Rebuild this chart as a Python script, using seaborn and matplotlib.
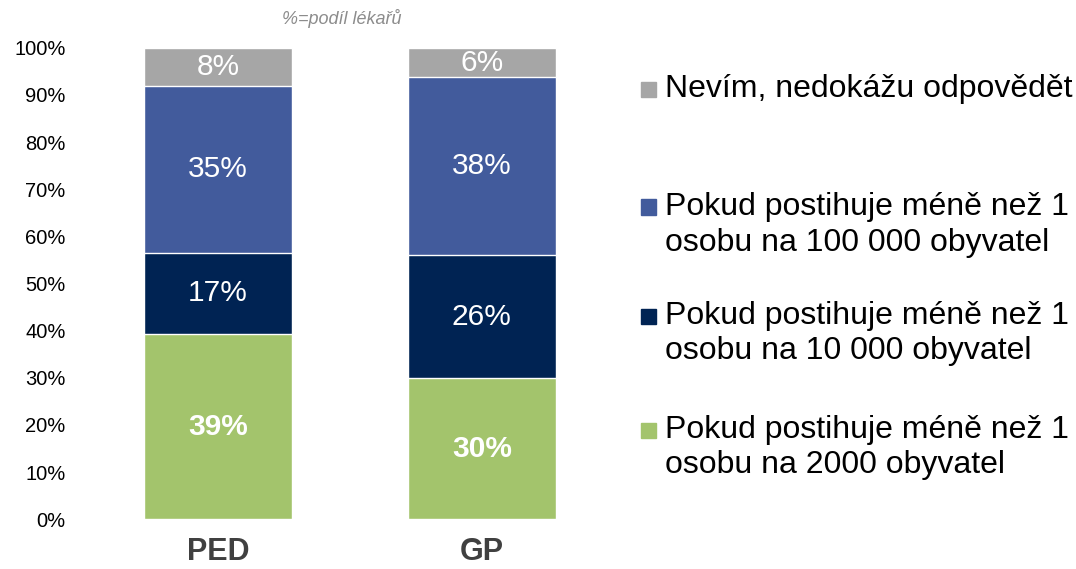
import numpy as np
import matplotlib
matplotlib.use('Agg')
import matplotlib.pyplot as plt
from matplotlib.patches import Rectangle
import seaborn as sns

# Data (share of doctors, %)
groups = ["PED", "GP"]
series = [
    "Pokud postihuje méně než 1\nosobu na 2000 obyvatel",
    "Pokud postihuje méně než 1\nosobu na 10 000 obyvatel",
    "Pokud postihuje méně než 1\nosobu na 100 000 obyvatel",
    "Nevím, nedokážu odpovědět",
]
val_2000 = [39.3, 29.9]
val_10000 = [17.2, 26.2]
val_100000 = [35.4, 37.6]
val_nevim = [8.1, 6.3]
colors = ["#A3C46C", "#002353", "#425B9C", "#A6A6A6"]
label_bold = [True, False, False, False]
note = "%=podíl lékařů"

sns.set_style("white")
plt.rcParams['font.family'] = ['Liberation Sans', 'DejaVu Sans']

W, H = 1076, 569
fig = plt.figure(figsize=(W / 100, H / 100), dpi=100)
ax = fig.add_axes([81 / W, 1 - 519.3 / H, 538 / W, 471.6 / H])

layers = np.array([val_2000, val_10000, val_100000, val_nevim])
tops = np.cumsum(layers, axis=0)
bottoms = tops - layers

# stacked bars: draw cumulative heights from top layer down
for i in range(len(series) - 1, -1, -1):
    sns.barplot(x=groups, y=tops[i], color=colors[i], saturation=1,
                width=0.56, errorbar=None, ax=ax, zorder=2)

# segment labels
for i in range(len(series)):
    for j in range(len(groups)):
        ax.text(j, bottoms[i, j] + layers[i, j] / 2, f"{layers[i, j]:.0f}%",
                ha='center', va='center', color='white', fontsize=21.5,
                fontweight='bold' if label_bold[i] else 'normal', zorder=3)

ax.set_xlim(-0.52, 1.52)
ax.set_ylim(0, 100)
ax.set_yticks(np.arange(0, 101, 10))
ax.set_yticklabels([f"{t}%" for t in range(0, 101, 10)])
ax.tick_params(axis='y', length=0, pad=11, labelsize=14.5, labelcolor='black')
ax.tick_params(axis='x', length=0, pad=13, labelsize=22, labelcolor='#404040')
for lab in ax.get_xticklabels():
    lab.set_fontweight('bold')
ax.set_xlabel("")
ax.set_ylabel("")
sns.despine(ax=ax, left=True, bottom=True)

fig.text(342 / W, 1 - 19 / H, note, ha='center', va='center',
         fontsize=13, style='italic', color='#8C8C8C')

# legend (top entry = top segment)
legend_y = [89.5, 207, 316, 430]
for k, i in enumerate(range(len(series) - 1, -1, -1)):
    yc = legend_y[k]
    fig.patches.append(Rectangle((641 / W, 1 - (yc + 7.5) / H), 15 / W, 15 / H,
                                 transform=fig.transFigure, color=colors[i]))
    for n, line in enumerate(series[i].split("\n")):
        fig.text(665 / W, 1 - (yc + n * 35.5) / H, line, ha='left',
                 va='center', fontsize=23, color='black')

fig.savefig("out.png", dpi=100)
